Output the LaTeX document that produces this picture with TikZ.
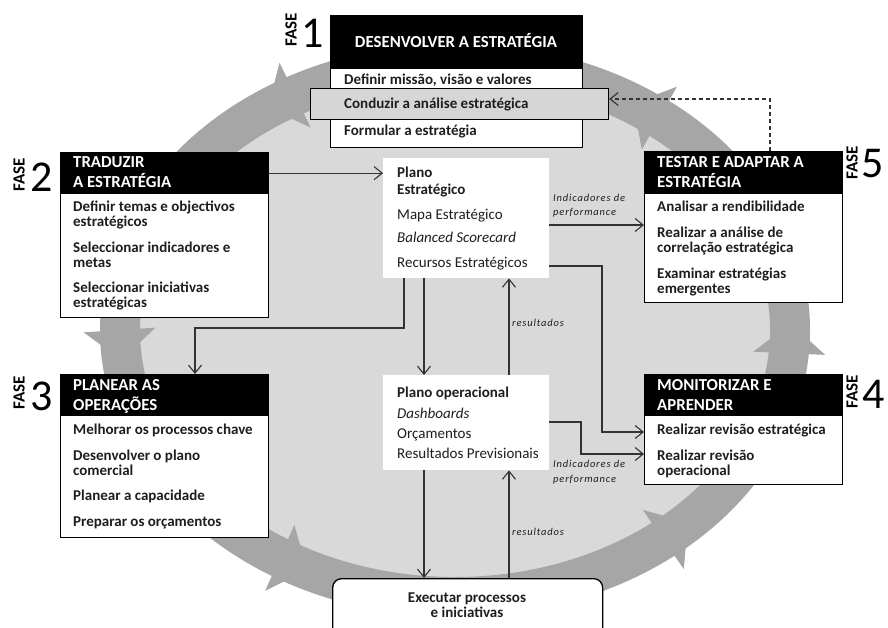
\documentclass[tikz,border=0pt]{standalone}
\usepackage{fontspec}
\setmainfont{Carlito}
\newfontfamily\lblfamily[LetterSpace=8]{Carlito}
\usetikzlibrary{arrows.meta}
\definecolor{ringc}{HTML}{A6A6A6}
\definecolor{discc}{HTML}{D9D9D9}
\definecolor{grayb}{HTML}{D6D6D6}
\definecolor{ink}{HTML}{1E1E1E}
\definecolor{lineink}{HTML}{333333}
\newcommand\fthead{\fontsize{16.8}{20}\selectfont\bfseries}
\newcommand\ftitem{\fontsize{15}{15}\selectfont\bfseries}
\newcommand\ftplan{\fontsize{15}{17}\selectfont}
\newcommand\ftplanb{\fontsize{15}{17}\selectfont\bfseries}
\newcommand\ftplani{\fontsize{15}{17}\selectfont\itshape}
\newcommand\ftlbl{\lblfamily\fontsize{10.5}{14.5}\selectfont\itshape}
\newcommand\ftfase{\fontsize{17}{17}\selectfont\bfseries}
\newcommand\ftnum{\fontsize{44}{44}\selectfont}
\tikzset{
  boxhead/.style={draw=black, fill=black, line width=1.3pt, inner sep=0, anchor=north west},
  boxbody/.style={draw=black, fill=white, line width=1.3pt, inner sep=0, anchor=north west},
  planbox/.style={fill=white, inner sep=0, anchor=north west},
  txt/.style={anchor=base west, inner sep=0, align=left, text=ink},
  conn/.style={draw=lineink, line width=1.1pt, -{Straight Barb[length=8pt,width=13pt]}},
  phase/.style={inner sep=0, text=black}
}
\begin{document}
\begin{tikzpicture}[x=1pt,y=-1pt]
\useasboundingbox (0,0) rectangle (888,628);
\clip (0,0) rectangle (888,628);
\fill[white] (0,0) rectangle (888,628);
% cycle ring
\fill[discc] (455,330) ellipse [x radius=335pt, y radius=267pt];
\draw[ringc, line width=40pt] (455,330) ellipse [x radius=335pt, y radius=267pt];
\foreach \t in {239,177,119,49,2,305} {
  \pgfmathsetmacro\cx{455+335*cos(\t)}
  \pgfmathsetmacro\cy{330+267*sin(\t)}
  \pgfmathsetmacro\dx{sin(\t)}
  \pgfmathsetmacro\dy{-0.797*cos(\t)}
  \pgfmathsetmacro\nn{sqrt(\dx*\dx+\dy*\dy)}
  \pgfmathsetmacro\ux{\dx/\nn}
  \pgfmathsetmacro\uy{\dy/\nn}
  \fill[ringc] ({\cx+16*\ux},{\cy+16*\uy}) -- ({\cx-14*\ux-36*\uy},{\cy-14*\uy+36*\ux}) -- ({\cx-14*\ux+36*\uy},{\cy-14*\uy-36*\ux}) -- cycle;
}
% box 1
\node[boxbody, minimum width=252pt, minimum height=79pt] (b1b) at (330,68) {};
\node[boxhead, minimum width=252pt, minimum height=53pt] (b1h) at (330,15) {};
\node[boxbody, fill=grayb, minimum width=298pt, minimum height=31pt] (b1g) at (310,88) {};
\node[inner sep=0, text=white, font=\fthead] (t1) at (456,41) {DESENVOLVER A ESTRATÉGIA};
\node[txt, font=\ftitem] (i11) at (344,85) {Definir missão, visão e valores};
\node[txt, font=\ftitem] (i12) at (344,109) {Conduzir a análise estratégica};
\node[txt, font=\ftitem] (i13) at (344,136) {Formular a estratégia};
\node[phase, rotate=90, font=\ftfase] (f1) at (291,30) {FASE};
\node[phase, font=\ftnum] (n1) at (313,33) {1};
% box 2
\node[boxbody, minimum width=208pt, minimum height=124pt] (b2b) at (60,193) {};
\node[boxhead, minimum width=208pt, minimum height=41pt] (b2h) at (60,152) {};
\node[txt, text=white, font=\fthead] (t2) at (73,188) {TRADUZIR\\A ESTRATÉGIA};
\node[txt, font=\ftitem] (i21) at (73,227) {Definir temas e objectivos\\estratégicos};
\node[txt, font=\ftitem] (i22) at (73,267) {Seleccionar indicadores e\\metas};
\node[txt, font=\ftitem] (i23) at (73,307) {Seleccionar iniciativas\\estratégicas};
\node[phase, rotate=90, font=\ftfase] (f2) at (19,175) {FASE};
\node[phase, font=\ftnum] (n2) at (42,177) {2};
% box 3
\node[boxbody, minimum width=208pt, minimum height=122pt] (b3b) at (60,415) {};
\node[boxhead, minimum width=208pt, minimum height=41pt] (b3h) at (60,374) {};
\node[txt, text=white, font=\fthead] (t3) at (73,410) {PLANEAR AS\\OPERAÇÕES};
\node[txt, font=\ftitem] (i31) at (73,434) {Melhorar os processos chave};
\node[txt, font=\ftitem] (i32) at (73,475) {Desenvolver o plano\\comercial};
\node[txt, font=\ftitem] (i33) at (73,500) {Planear a capacidade};
\node[txt, font=\ftitem] (i34) at (73,526) {Preparar os orçamentos};
\node[phase, rotate=90, font=\ftfase] (f3) at (19,393) {FASE};
\node[phase, font=\ftnum] (n3) at (42,396) {3};
% box 5
\node[boxbody, minimum width=198pt, minimum height=109pt] (b5b) at (644,193) {};
\node[boxhead, minimum width=198pt, minimum height=42pt] (b5h) at (644,151) {};
\node[txt, text=white, font=\fthead] (t5) at (657,188) {TESTAR E ADAPTAR A\\ESTRATÉGIA};
\node[txt, font=\ftitem] (i51) at (657,212) {Analisar a rendibilidade};
\node[txt, font=\ftitem] (i52) at (657,252) {Realizar a análise de\\correlação estratégica};
\node[txt, font=\ftitem] (i53) at (657,293) {Examinar estratégias\\emergentes};
\node[phase, rotate=90, font=\ftfase] (f5) at (852,163) {FASE};
\node[phase, font=\ftnum] (n5) at (873,164) {5};
% box 4
\node[boxbody, minimum width=198pt, minimum height=69pt] (b4b) at (644,415) {};
\node[boxhead, minimum width=198pt, minimum height=41pt] (b4h) at (644,374) {};
\node[txt, text=white, font=\fthead] (t4) at (657,410) {MONITORIZAR E\\APRENDER};
\node[txt, font=\ftitem] (i41) at (657,434) {Realizar revisão estratégica};
\node[txt, font=\ftitem] (i42) at (657,475) {Realizar revisão\\operacional};
\node[phase, rotate=90, font=\ftfase] (f4) at (852,392) {FASE};
\node[phase, font=\ftnum] (n4) at (874,394) {4};
% plano estrategico
\node[planbox, minimum width=166pt, minimum height=120pt] (ps) at (383,158) {};
\node[txt, font=\ftplanb] (p1) at (397,195) {Plano\\Estratégico};
\node[txt, font=\ftplan] (p2) at (397,220) {Mapa Estratégico};
\node[txt, font=\ftplani] (p3) at (397,243) {Balanced Scorecard};
\node[txt, font=\ftplan] (p4) at (397,267) {Recursos Estratégicos};
% plano operacional
\node[planbox, minimum width=166pt, minimum height=95pt] (po) at (383,375) {};
\node[txt, font=\ftplanb] (q1) at (397,397) {Plano operacional};
\node[txt, font=\ftplani] (q2) at (397,418) {Dashboards};
\node[txt, font=\ftplan] (q3) at (397,438) {Orçamentos};
\node[txt, font=\ftplan] (q4) at (397,458) {Resultados Previsionais};
% executar
\node[draw=black, fill=white, line width=1.3pt, rounded corners=9pt, inner sep=0, anchor=north west, minimum width=270pt, minimum height=80pt] (ex) at (332,578) {};
\node[inner sep=0, align=center, text=ink, font=\ftitem, anchor=base] (exl) at (467,617) {Executar processos\\e iniciativas};
% connectors
\coordinate (k1) at (404,328);
\coordinate (k2) at (195,328);
\coordinate (xa) at (424,300);
\coordinate (xb) at (509,300);
\coordinate (r1) at (602,266);
\coordinate (r2) at (602,432);
\coordinate (s1) at (581,422);
\coordinate (s2) at (581,454);
\coordinate (ia) at (600,225);
\coordinate (d1) at (770,99);
\draw[conn] (b2h.east) -- (ps.west |- b2h.east);
\draw[conn] (ps.east |- ia) -- (b5b.west |- ia);
\draw[conn] (ps.south -| k1) -- (k1) -- (k2) -- (b3h.north -| k2);
\draw[conn] (ps.south -| xa) -- (po.north -| xa);
\draw[conn] (po.north -| xb) -- (ps.south -| xb);
\draw[conn] (ps.east |- r1) -- (r1) -- (r2) -- (b4b.west |- r2);
\draw[conn] (po.east |- s1) -- (s1) -- (s2) -- (b4b.west |- s2);
\draw[conn] (po.south -| xa) -- (ex.north -| xa);
\draw[conn] (ex.north -| xb) -- (po.south -| xb);
\draw[conn, dash pattern=on 4pt off 3pt] (b5h.north -| d1) -- (d1) -- (b1g.east |- d1);
% labels
\node[txt, font=\ftlbl] (l1) at (553,216) {Indicadores de\\performance};
\node[txt, font=\ftlbl] (l2) at (553,482) {Indicadores de\\performance};
\node[txt, font=\ftlbl] (l3) at (512,326) {resultados};
\node[txt, font=\ftlbl] (l4) at (512,535) {resultados};
\end{tikzpicture}
\end{document}
